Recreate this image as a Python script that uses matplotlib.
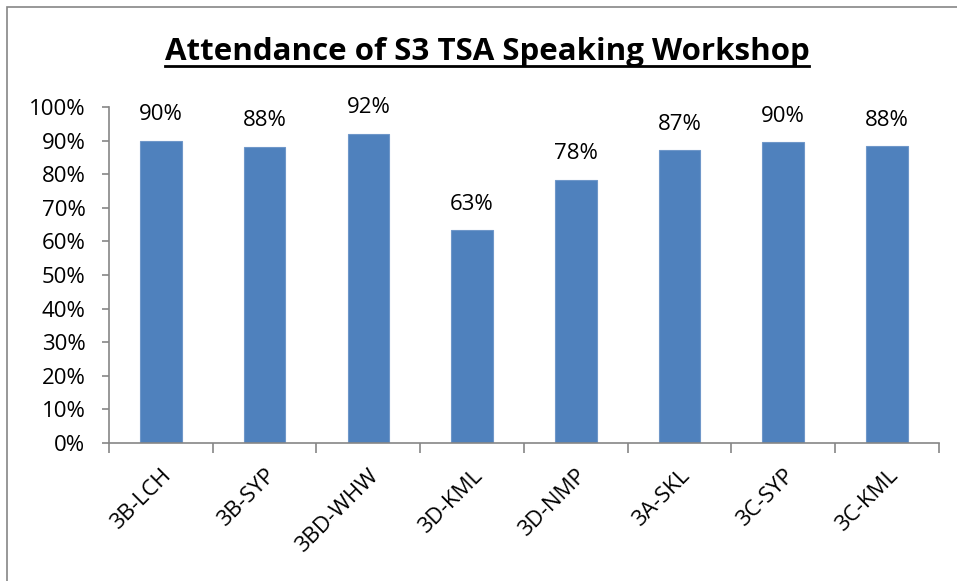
import matplotlib.pyplot as plt
import numpy as np
from matplotlib.lines import Line2D
from matplotlib.patches import Rectangle

# data
classes = ["3B-LCH", "3B-SYP", "3BD-WHW", "3D-KML", "3D-NMP", "3A-SKL", "3C-SYP", "3C-KML"]
attendance = [0.90, 0.882, 0.921, 0.634, 0.784, 0.872, 0.896, 0.884]
yticks = [0.0, 0.1, 0.2, 0.3, 0.4, 0.5, 0.6, 0.7, 0.8, 0.9, 1.0]

plt.rcParams['font.family'] = ['Open Sans', 'DejaVu Sans']

fig = plt.figure(figsize=(9.57, 5.81), dpi=100)
ax = fig.add_axes([0.1139, 0.2375, 0.981 - 0.1139, 0.8158 - 0.2375])

x = np.arange(len(classes))
bars = ax.bar(x, attendance, width=0.4, color="#4F81BD", edgecolor="#6F97C9", linewidth=0.8, zorder=2)

#value labels above bars
for b, v in zip(bars, attendance):
    ax.annotate("%d%%" % round(v * 100), (b.get_x() + b.get_width() / 2, v), xytext=(0, 11),
                textcoords="offset points", ha="center", va="bottom", fontsize=16, color="black")

ax.set_xlim(-0.5, len(classes) - 0.5)
ax.set_ylim(0, 1)
ax.set_yticks(yticks)
ax.set_yticklabels(["%d%%" % round(t * 100) for t in yticks], fontsize=16)

ax.set_xticks(x)
ax.set_xticklabels(classes, rotation=45, ha="right", rotation_mode="anchor", fontsize=16)
ax.tick_params(axis="x", which="major", length=0, pad=16)
ax.set_xticks(np.arange(len(classes) + 1) - 0.5, minor=True)
ax.tick_params(axis="x", which="minor", length=7, color="#868686", width=1.2)
ax.tick_params(axis="y", length=5, color="#868686", width=1.2, pad=12)

for s in ["top", "right"]:
    ax.spines[s].set_visible(False)
for s in ["left", "bottom"]:
    ax.spines[s].set_color("#868686")
    ax.spines[s].set_linewidth(1.2)

#title with underline
title = fig.text(0.509, 0.91, "Attendance of S3 TSA Speaking Workshop", ha="center", va="center",
                 fontsize=22.5, fontweight="bold")
fig.canvas.draw()
bb = title.get_window_extent().transformed(fig.transFigure.inverted())
fig.add_artist(Line2D([bb.x0, bb.x1], [bb.y0 + 0.002, bb.y0 + 0.002], color="black", linewidth=2,
                      transform=fig.transFigure))

#outer chart border
fig.add_artist(Rectangle((7 / 957, -0.1), 1.2, 1.1 - 7 / 581, fill=False, edgecolor="#868686",
                         linewidth=1.2, transform=fig.transFigure))

plt.savefig("out.png", dpi=100)
